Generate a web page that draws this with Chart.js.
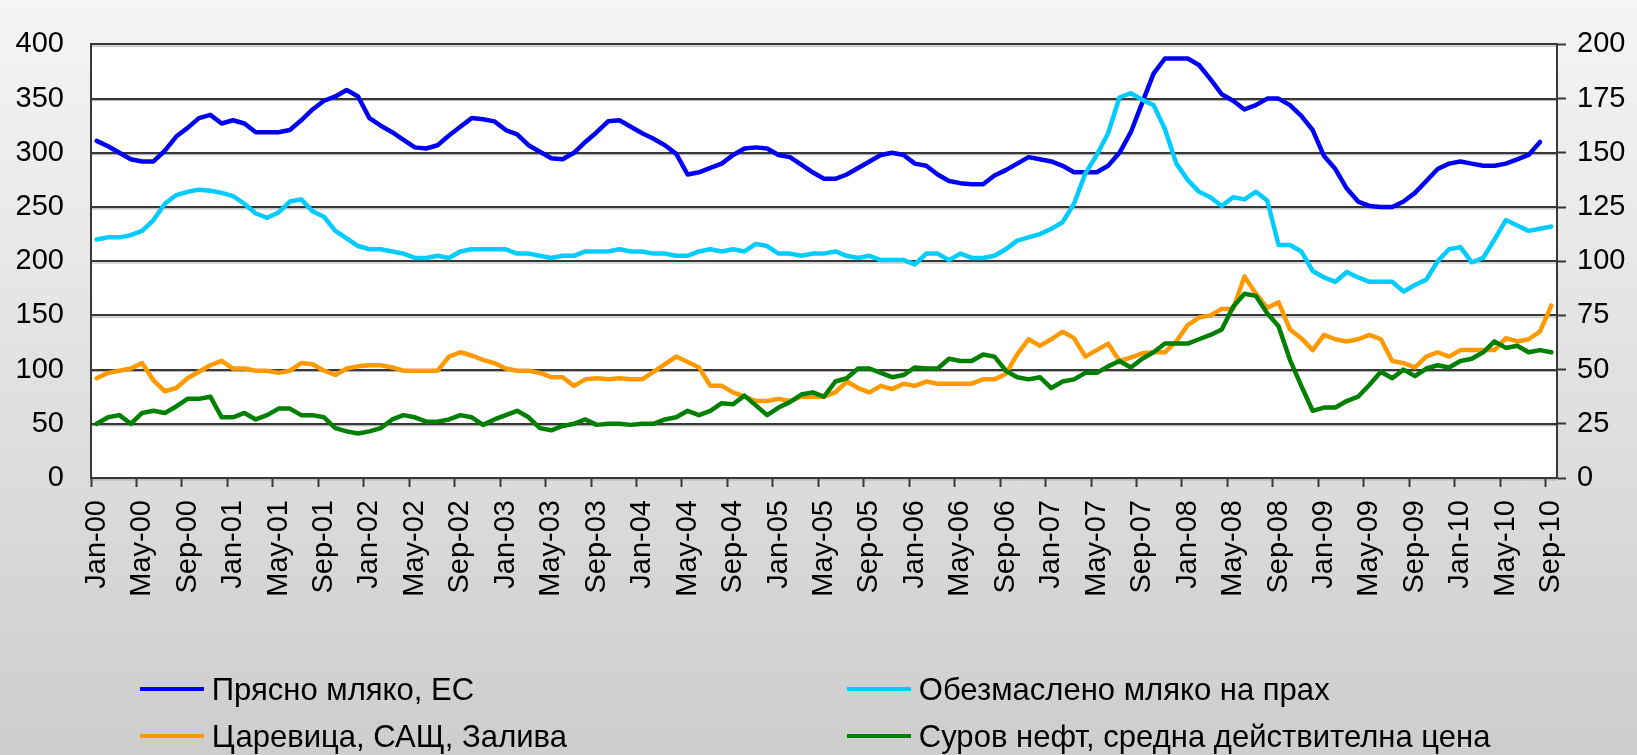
<!DOCTYPE html>
<html>
<head>
<meta charset="utf-8">
<script src="https://cdn.jsdelivr.net/npm/chart.js@4.4.1/dist/chart.umd.min.js"></script>
<style>
html, body { margin: 0; padding: 0; }
body {
  width: 1637px; height: 755px; overflow: hidden; position: relative;
  background: linear-gradient(#f5f5f5, #cdcdcd);
  font-family: "Liberation Sans", Arial, sans-serif;
}
#wrap { position: absolute; left: 0; top: 0; width: 1637px; height: 755px; }
.leg { position: absolute; height: 40px; display: flex; align-items: center; font-size: 32px; color: #000; white-space: nowrap; transform: scaleX(0.97); transform-origin: left center; }
.leg span { display: inline-block; width: 66px; height: 4px; margin-right: 8px; }
</style>
</head>
<body>
<div id="wrap"><canvas id="chart"></canvas></div>
<script>
// month labels Jan-00 .. Sep-10
const monthNames = ['Jan','Feb','Mar','Apr','May','Jun','Jul','Aug','Sep','Oct','Nov','Dec'];
const months = [];
for (let y = 0; y <= 10; y++) {
  for (let m = 0; m < 12; m++) {
    if (y === 10 && m > 8) break;
    months.push(monthNames[m] + '-' + String(y).padStart(2, '0'));
  }
}

const seriesNames = [
  'Прясно мляко, ЕС',
  'Обезмаслено мляко на прах',
  'Царевица, САЩ, Залива',
  'Суров нефт, средна действителна цена'
];

// fresh milk, EU
const freshMilk = [
  311,306,300,294,292,292,302,315,323,332,335,327,330,327,319,319,319,321,330,340,348,352,358,352,332,325,319,312,305,304,307,316,
  324,332,331,329,321,317,307,301,295,294,300,310,319,329,330,324,318,313,307,299,280,282,286,290,298,304,305,304,298,296,289,282,
  276,276,280,286,292,298,300,298,290,288,280,274,272,271,271,279,284,290,296,294,292,288,282,282,282,288,300,319,346,373,387,387,
  387,381,368,354,348,340,344,350,350,344,334,321,297,285,267,255,251,250,250,255,263,274,285,290,292,290,288,288,290,294,298,310,null
];
// skimmed milk powder
const skimMilk = [
  220,222,222,224,228,238,253,261,264,266,265,263,260,253,244,240,245,255,257,246,241,228,221,214,211,211,209,207,203,203,205,203,
  209,211,211,211,211,207,207,205,203,205,205,209,209,209,211,209,209,207,207,205,205,209,211,209,211,209,216,214,207,207,205,207,
  207,209,205,203,205,201,201,201,197,207,207,201,207,203,203,205,211,219,222,225,230,236,253,281,298,318,351,355,349,344,322,290,
  275,264,259,251,259,257,264,256,215,215,209,191,185,181,190,185,181,181,181,172,178,183,200,211,213,199,203,220,238,233,228,230,232
];
// maize, US Gulf
const corn = [
  92,97,99,101,106,90,80,83,92,98,104,108,101,101,99,99,97,99,106,105,99,95,101,103,104,104,102,99,99,99,99,112,
  116,113,109,106,101,99,99,97,93,93,85,91,92,91,92,91,91,98,105,112,107,102,85,85,79,75,71,71,73,71,75,75,
  75,79,89,83,79,85,82,87,85,89,87,87,87,87,91,91,96,114,128,122,128,135,129,112,118,124,108,111,115,116,116,126,
  141,148,150,156,156,186,170,157,162,137,129,118,132,128,126,128,132,128,108,106,102,112,116,112,118,118,118,118,129,126,128,135,159
];
// crude oil, average
const oil = [
  50,56,58,50,60,62,60,66,73,73,75,56,56,60,54,58,64,64,58,58,56,46,43,41,43,46,54,58,56,52,52,54,
  58,56,49,54,58,62,56,46,44,48,50,54,49,50,50,49,50,50,54,56,62,58,62,69,68,76,67,58,65,70,77,79,
  75,89,92,101,101,97,93,95,102,101,101,110,108,108,114,112,99,93,91,93,83,89,91,97,97,103,108,102,110,116,124,124,
  124,128,132,137,158,170,168,152,140,109,85,62,65,65,71,75,86,98,92,100,94,101,104,102,108,110,116,126,120,122,116,118,116
];

const colors = ['#0000f5', '#00ccff', '#ff9900', '#008000'];
const values = [freshMilk, skimMilk, corn, oil];

const axisColor = '#383838';

// white plot area plus the soft shadow under each gridline
const plotBg = {
  id: 'plotBg',
  beforeDraw(chart) {
    const { ctx, chartArea: a } = chart;
    ctx.save();
    ctx.fillStyle = '#ffffff';
    ctx.fillRect(a.left, a.top, a.right - a.left, a.bottom - a.top);
    ctx.strokeStyle = '#b4b4b4';
    ctx.lineWidth = 1.2;
    chart.scales.y.ticks.forEach(t => {
      const py = chart.scales.y.getPixelForValue(t.value) + 1.8;
      ctx.beginPath();
      ctx.moveTo(a.left, py);
      ctx.lineTo(a.right, py);
      ctx.stroke();
    });
    ctx.restore();
  }
};

const datasets = values.map((v, i) => ({
  label: seriesNames[i],
  data: v,
  borderColor: colors[i],
  backgroundColor: colors[i],
  borderWidth: 4.5,
  pointRadius: 0,
  tension: 0,
  fill: false,
  borderJoinStyle: 'round',
  borderCapStyle: 'round',
  order: 4 - i
}));

new Chart(document.getElementById('chart'), {
  type: 'line',
  data: { labels: months, datasets: datasets },
  plugins: [plotBg],
  options: {
    responsive: true,
    maintainAspectRatio: false,
    animation: false,
    devicePixelRatio: 1,
    layout: { padding: { top: 23, left: 0, right: 0, bottom: 0 } },
    plugins: { legend: { display: false }, tooltip: { enabled: false } },
    scales: {
      x: {
        offset: true,
        afterFit(s) { s.height = 277; },
        grid: {
          offset: true,
          drawOnChartArea: false,
          drawTicks: true,
          tickLength: 9,
          tickWidth: 2,
          tickColor: (c) => (c.index !== undefined && c.index % 4 === 0) ? axisColor : 'rgba(0,0,0,0)'
        },
        border: { display: true, color: axisColor, width: 2 },
        ticks: {
          autoSkip: false,
          minRotation: 90,
          maxRotation: 90,
          padding: 13,
          color: '#000',
          font: { family: 'Liberation Sans', size: 29 },
          callback: (val, idx) => idx % 4 === 0 ? months[idx] : ''
        }
      },
      y: {
        position: 'left',
        min: 0, max: 400,
        afterFit(s) { s.width = 91; },
        grid: { color: axisColor, lineWidth: 2, drawTicks: false },
        border: { display: true, color: axisColor, width: 2 },
        ticks: {
          stepSize: 50,
          padding: 27,
          color: '#000',
          font: { family: 'Liberation Sans', size: 29 }
        }
      },
      y1: {
        position: 'right',
        min: 0, max: 200,
        afterFit(s) { s.width = 80; },
        grid: { drawOnChartArea: false, drawTicks: true, tickLength: 9, tickWidth: 2, tickColor: axisColor },
        border: { display: true, color: axisColor, width: 2 },
        ticks: {
          stepSize: 25,
          padding: 11,
          color: '#000',
          font: { family: 'Liberation Sans', size: 29 }
        }
      }
    }
  }
});

// legend, two columns
const legendPos = [[140, 669], [847, 669], [140, 716], [847, 716]];
seriesNames.forEach((name, i) => {
  const d = document.createElement('div');
  d.className = 'leg';
  d.style.left = legendPos[i][0] + 'px';
  d.style.top = legendPos[i][1] + 'px';
  const sw = document.createElement('span');
  sw.style.background = colors[i];
  d.appendChild(sw);
  d.appendChild(document.createTextNode(name));
  document.body.appendChild(d);
});
</script>
</body>
</html>
